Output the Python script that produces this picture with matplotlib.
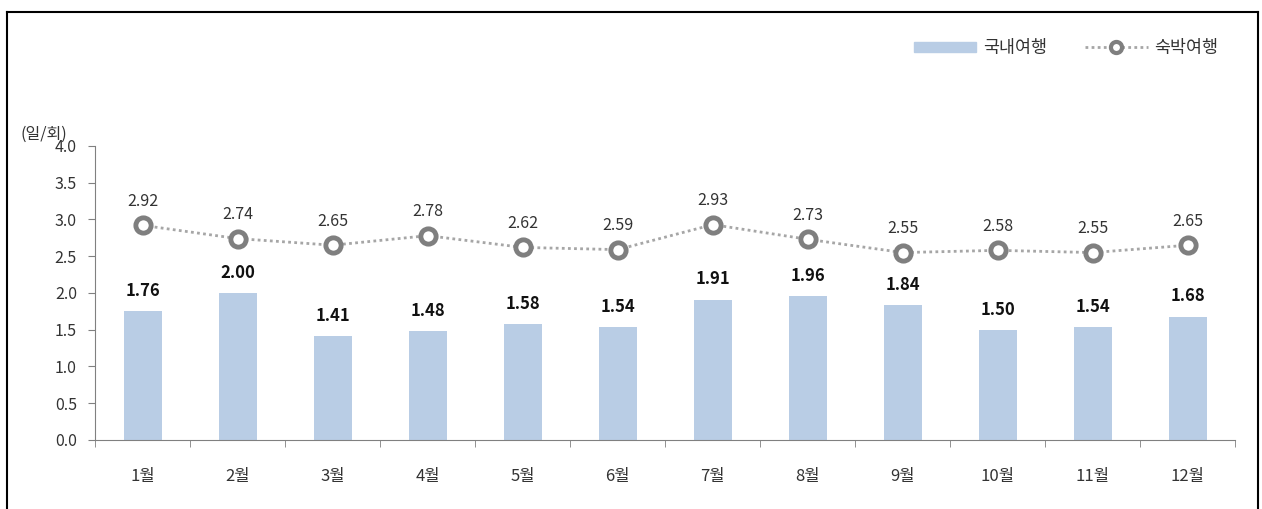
import numpy as np
import matplotlib.pyplot as plt
from matplotlib.lines import Line2D
from matplotlib.patches import Rectangle

plt.rcParams['font.family'] = ['Noto Sans CJK KR', 'DejaVu Sans']

months = ["1월", "2월", "3월", "4월", "5월", "6월", "7월", "8월", "9월", "10월", "11월", "12월"]
domestic = [1.76, 2.00, 1.41, 1.48, 1.58, 1.54, 1.91, 1.96, 1.84, 1.50, 1.54, 1.68]
overnight = [2.92, 2.74, 2.65, 2.78, 2.62, 2.59, 2.93, 2.73, 2.55, 2.58, 2.55, 2.65]

bar_color = "#B9CDE5"
line_color = "#A6A6A6"
marker_color = "#7F7F7F"
text_color = "#333333"

fig = plt.figure(figsize=(12.62, 5.09), dpi=100)
ax = fig.add_axes([0.0753, 0.1356, 0.9037, 0.5776])

x = np.arange(len(months))
ax.bar(x, domestic, width=0.4, color=bar_color, zorder=2)
ax.plot(x, overnight, linestyle=(0, (1, 1.2)), color=line_color, linewidth=2,
        marker="o", markersize=11, markerfacecolor="white",
        markeredgecolor=marker_color, markeredgewidth=3.5, zorder=3)

for xi, v in zip(x, domestic):
    ax.annotate(f"{v:.2f}", (xi, v), xytext=(0, 8), textcoords="offset points",
                ha="center", va="bottom", fontsize=12, fontweight="bold", color="#111111")
for xi, v in zip(x, overnight):
    ax.annotate(f"{v:.2f}", (xi, v), xytext=(0, 11), textcoords="offset points",
                ha="center", va="bottom", fontsize=11.5, color=text_color)

ax.set_xlim(-0.5, len(months) - 0.5)
ax.set_ylim(0, 4.0)
ax.set_yticks(np.arange(0, 4.01, 0.5))
ax.set_yticklabels([f"{t:.1f}" for t in np.arange(0, 4.01, 0.5)])
ax.set_xticks(x)
ax.set_xticklabels(months)
ax.set_xticks(np.arange(-0.5, len(months), 1), minor=True)
ax.tick_params(axis="x", which="major", length=0, pad=20, labelsize=12, labelcolor=text_color)
ax.tick_params(axis="x", which="minor", length=5, direction="out", color="#808080")
ax.tick_params(axis="y", length=5, direction="out", color="#808080", labelsize=11.5,
               labelcolor=text_color, pad=8)

for s in ["top", "right"]:
    ax.spines[s].set_visible(False)
ax.spines["left"].set_color("#808080")
ax.spines["bottom"].set_color("#808080")

fig.text(20 / 1262, 1 - 134 / 509, "(일/회)", fontsize=11.5, color=text_color, va="center")

# legend
bar_handle = Rectangle((0, 0), 1, 1, color=bar_color)
line_handle = Line2D([], [], linestyle=(0, (1, 1.2)), color=line_color, linewidth=2,
                     marker="o", markersize=8, markerfacecolor="white",
                     markeredgecolor=marker_color, markeredgewidth=3)
fig.legend([bar_handle, line_handle], ["국내여행", "숙박여행"], loc="center right",
           bbox_to_anchor=(0.978, 1 - 48 / 509), ncol=2, frameon=False, fontsize=12.5,
           handlelength=3.6, handleheight=0.5, columnspacing=2.2, handletextpad=0.4,
           labelcolor=text_color)

# outer frame
fig.add_artist(Line2D([7 / 1262, 7 / 1262], [0, 1 - 12 / 509], color="black", lw=1.5,
                      transform=fig.transFigure))
fig.add_artist(Line2D([7 / 1262, 1258 / 1262], [1 - 12 / 509, 1 - 12 / 509], color="black",
                      lw=1.5, transform=fig.transFigure))
fig.add_artist(Line2D([1258 / 1262, 1258 / 1262], [0, 1 - 12 / 509], color="black", lw=1.5,
                      transform=fig.transFigure))

fig.savefig("out.png", dpi=100)
